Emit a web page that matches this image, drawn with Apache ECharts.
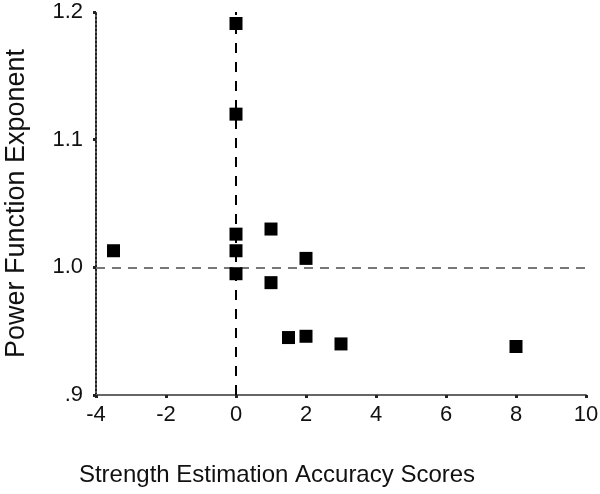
<!DOCTYPE html>
<html>
<head>
<meta charset="utf-8">
<script src="https://cdn.jsdelivr.net/npm/echarts@6/dist/echarts.min.js"></script>
<style>html,body{margin:0;padding:0;background:#fff}#c{width:600px;height:494px}</style>
</head>
<body>
<div id="c"></div>
<script>
const xScores = [-3.5, 0, 0, 0, 0, 0, 1, 1, 2, 1.5, 2, 3, 8];
const exponents = [1.013, 1.191, 1.120, 1.026, 1.013, 0.995, 1.030, 0.988, 1.007, 0.945, 0.946, 0.940, 0.938];
const xTicks = [-4, -2, 0, 2, 4, 6, 8, 10];
const yTicks = ['.9', '1.0', '1.1', '1.2'];
const xName = 'Strength Estimation Accuracy Scores';
const yName = 'Power Function Exponent';

const pts = xScores.map((x, i) => [x, exponents[i]]);
const font = 'Liberation Sans, Arial, sans-serif';
const chart = echarts.init(document.getElementById('c'));
chart.setOption({
  animation: false,
  grid: {left: 96, right: 14, top: 12, bottom: 99, containLabel: false, outerBoundsMode: 'none'},
  xAxis: {
    type: 'value', min: -4, max: 10, interval: 2,
    name: xName, nameLocation: 'middle', nameGap: 68,
    nameTextStyle: {fontFamily: font, fontSize: 24, color: '#111', padding: [0, 128, 0, 0]},
    axisLine: {onZero: false, lineStyle: {color: '#666', width: 2}},
    axisTick: {show: true, length: 3, lineStyle: {color: '#222', width: 3}},
    axisLabel: {fontFamily: font, fontSize: 22, color: '#111', margin: 9,
      formatter: v => xTicks.includes(v) ? String(v) : ''},
    splitLine: {show: false}
  },
  yAxis: {
    type: 'value', min: 0.9, max: 1.2, interval: 0.1,
    name: yName, nameLocation: 'middle', nameGap: 66, nameRotate: 90,
    nameTextStyle: {fontFamily: font, fontSize: 27, color: '#111'},
    axisLine: {onZero: false, lineStyle: {color: '#222', width: 2, type: 'dotted'}},
    axisTick: {show: true, length: 3, lineStyle: {color: '#222', width: 3}},
    axisLabel: {fontFamily: font, fontSize: 22, color: '#111', margin: 13,
      formatter: v => yTicks[Math.round((v - 0.9) * 10)] || ''},
    splitLine: {show: false}
  },
  series: [{
    type: 'scatter',
    data: pts,
    symbol: 'rect',
    symbolSize: 13,
    itemStyle: {color: '#000', opacity: 1},
    z: 5,
    markLine: {
      silent: true,
      symbol: 'none',
      label: {show: false},
      data: [
        {yAxis: 1.0, lineStyle: {color: '#777', width: 2, type: [9, 7]}},
        {xAxis: 0, lineStyle: {color: '#000', width: 2, type: [10, 9]}}
      ]
    }
  }]
});
</script>
</body>
</html>
